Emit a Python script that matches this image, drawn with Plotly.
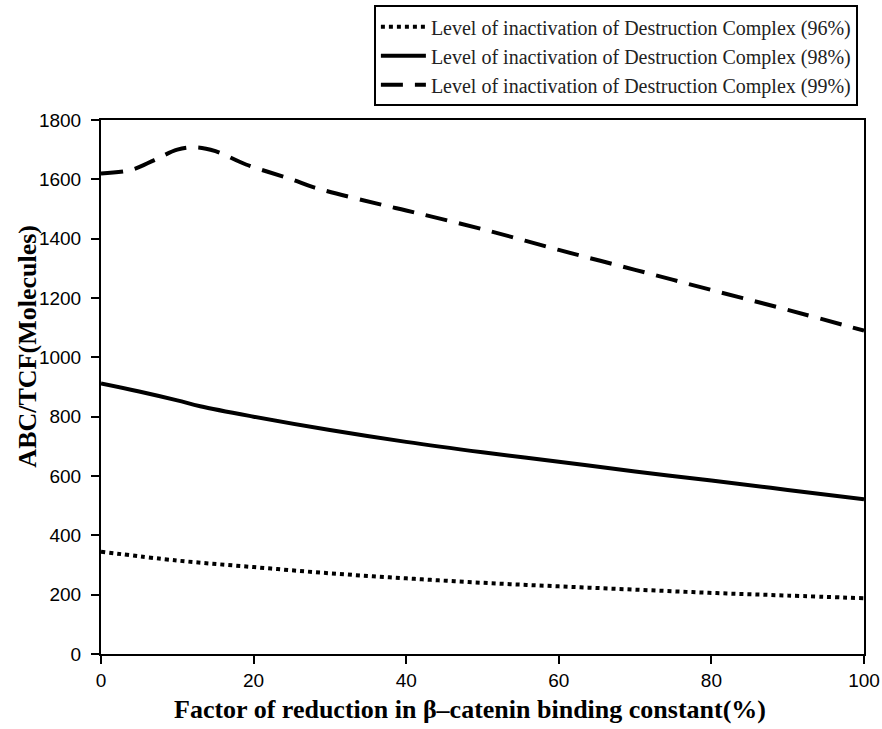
import plotly.graph_objects as go

# Data
x96 = [0, 10, 20, 30, 40, 50, 60, 70, 80, 90, 100]
y96 = [345, 315, 293, 272, 255, 240, 228, 217, 206, 197, 188]

x98 = [0, 5, 10, 13, 20, 30, 40, 50, 60, 70, 80, 90, 100]
y98 = [912, 885, 855, 835, 800, 755, 715, 680, 648, 615, 585, 553, 522]

x99 = [0, 4, 7, 10, 12.5, 15, 19, 25, 28, 37, 40, 50, 60, 70, 80, 90, 100]
y99 = [1620, 1632, 1665, 1700, 1708, 1695, 1650, 1600, 1572, 1513, 1495, 1432, 1362, 1295, 1227, 1160, 1090]

names = [
    "Level of inactivation of Destruction Complex (96%)",
    "Level of inactivation of Destruction Complex (98%)",
    "Level of inactivation of Destruction Complex (99%)",
]

x_ticks = [0, 20, 40, 60, 80, 100]
y_ticks = [0, 200, 400, 600, 800, 1000, 1200, 1400, 1600, 1800]

x_title = "<b>Factor of reduction in β–catenin binding constant(%)</b>"
y_title = "<b>ABC/TCF(Molecules)</b>"

fig = go.Figure()
fig.add_trace(go.Scatter(x=x96, y=y96, mode="lines", name=names[0],
                         line=dict(color="black", width=4, dash="dot", shape="spline")))
fig.add_trace(go.Scatter(x=x98, y=y98, mode="lines", name=names[1],
                         line=dict(color="black", width=4, shape="spline")))
fig.add_trace(go.Scatter(x=x99, y=y99, mode="lines", name=names[2],
                         line=dict(color="black", width=4, dash="22px,12px", shape="spline")))

axis_font = dict(family="Liberation Sans, Arial, sans-serif", size=19, color="black")
serif = "Liberation Serif, DejaVu Serif, serif"

fig.update_layout(
    width=882, height=729,
    margin=dict(l=101, r=18, t=120, b=75, autoexpand=False),
    paper_bgcolor="white", plot_bgcolor="white",
    showlegend=True,
    legend=dict(
        x=0.992, y=1.215, xanchor="right", yanchor="top",
        bordercolor="black", borderwidth=2, bgcolor="white",
        font=dict(family=serif, size=20, color="#222"),
        itemwidth=45, tracegroupgap=0,
    ),
    xaxis=dict(
        range=[0, 100], tickvals=x_ticks, ticks="outside", ticklen=8, tickwidth=1.5,
        tickcolor="black", showline=True, linecolor="black", linewidth=2, mirror=True,
        showgrid=False, zeroline=False, tickfont=axis_font, ticklabelstandoff=0,
    ),
    yaxis=dict(
        range=[0, 1800], tickvals=y_ticks, ticks="outside", ticklen=8, tickwidth=1.5,
        tickcolor="black", showline=True, linecolor="black", linewidth=2, mirror=True,
        showgrid=False, zeroline=False, tickfont=axis_font, ticklabelstandoff=6,
    ),
    annotations=[
        dict(text=x_title, xref="paper", yref="paper", x=0.483, y=-0.073,
             xanchor="center", yanchor="top", showarrow=False,
             font=dict(family=serif, size=26, color="black")),
        dict(text=y_title, xref="paper", yref="paper", x=-0.096, y=0.577,
             xanchor="center", yanchor="middle", showarrow=False, textangle=-90,
             font=dict(family=serif, size=26, color="black")),
    ],
)

fig.write_html("out.html")
